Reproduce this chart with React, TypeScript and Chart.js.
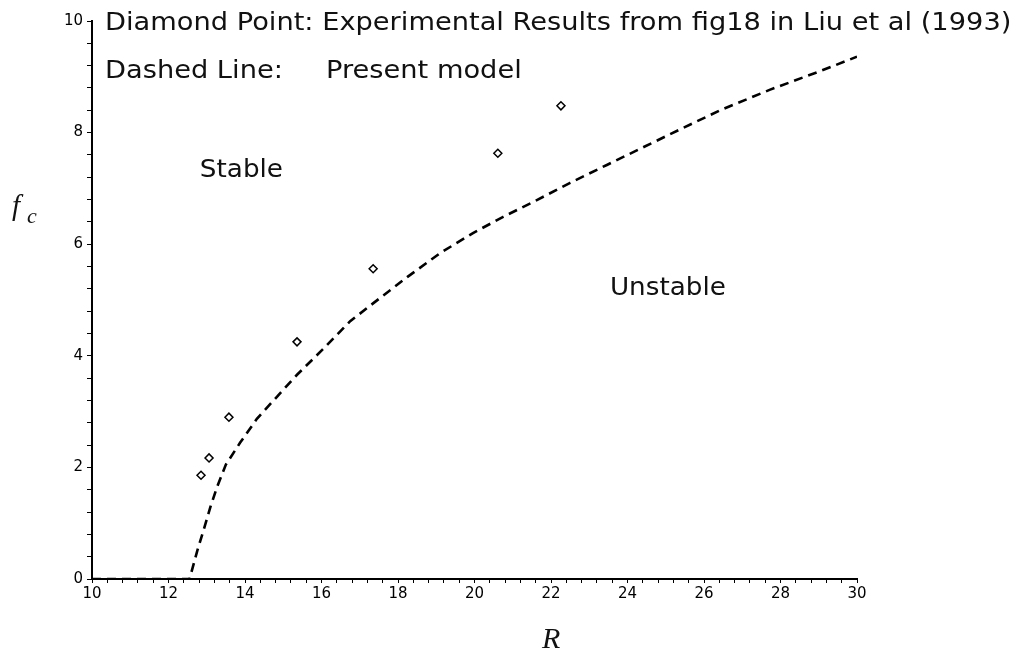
import React, { useEffect, useRef } from "react";
import { Chart, registerables } from "chart.js";

Chart.register(...registerables);

// Present model: critical f_c against R (dashed curve)
const modelR = [10, 12.55, 12.75, 12.95, 13.1, 13.27, 13.5, 13.87, 14.31, 14.84, 15.36, 16.04, 16.75, 17.5, 18.24, 19.1, 19.96, 20.75, 21.63, 22.5, 23.46, 24.3, 25.11, 26.42, 27.73, 29.03, 30];
const modelF = [0, 0, 0.5, 0.95, 1.3, 1.65, 2.05, 2.44, 2.87, 3.27, 3.66, 4.12, 4.62, 5.02, 5.41, 5.84, 6.2, 6.49, 6.79, 7.1, 7.42, 7.7, 7.97, 8.4, 8.77, 9.1, 9.36];

// Experimental points, fig18 of Liu et al (1993)
const expR = [12.85, 13.06, 13.58, 15.36, 17.35, 20.61, 22.26];
const expF = [1.86, 2.17, 2.9, 4.25, 5.56, 7.63, 8.48];

// Labelled ticks; the unlabelled minor ticks fall every 0.4 in between
const xTickLabels = [10, 12, 14, 16, 18, 20, 22, 24, 26, 28, 30];
const yTickLabels = [0, 2, 4, 6, 8, 10];

const legendLines = [
  "Diamond Point: Experimental Results from fig18 in Liu et al (1993)",
  "Dashed Line:",
  "Present model",
];
const regionLabels = ["Stable", "Unstable"];

const isLabelled = (list: number[], v: number) =>
  list.some((t) => Math.abs(t - v) < 1e-6);

// wide, Verdana-like lettering: DejaVu Sans stretched a little sideways
function wideText(ctx: CanvasRenderingContext2D, text: string, x: number, y: number, sx: number) {
  ctx.save();
  ctx.translate(x, y);
  ctx.scale(sx, 1);
  ctx.fillText(text, 0, 0);
  ctx.restore();
}

const textPlugin = {
  id: "plotText",
  afterDraw(chart: any) {
    const ctx = chart.ctx as CanvasRenderingContext2D;
    const xs = chart.scales.x;
    const ys = chart.scales.y;
    ctx.save();
    ctx.fillStyle = "#111";
    ctx.textAlign = "left";
    ctx.textBaseline = "alphabetic";
    ctx.font = '25px "DejaVu Sans"';
    wideText(ctx, legendLines[0], 105, 30, 1.09);
    wideText(ctx, legendLines[1], 105, 78, 1.09);
    wideText(ctx, legendLines[2], 326, 78, 1.09);

    wideText(ctx, regionLabels[0], xs.getPixelForValue(12.82), ys.getPixelForValue(7.2), 1.05);
    wideText(ctx, regionLabels[1], xs.getPixelForValue(23.54), ys.getPixelForValue(5.09), 1.05);

    // axis names in italic serif
    ctx.font = 'italic 29px "Liberation Serif"';
    ctx.fillText("f", 12, 215);
    ctx.font = 'italic 22px "Liberation Serif"';
    ctx.fillText("c", 27, 223);
    ctx.font = 'italic 30px "Liberation Serif"';
    ctx.fillText("R", 542, 648);
    ctx.restore();
  },
};

export default function App() {
  const canvasRef = useRef<HTMLCanvasElement>(null);

  useEffect(() => {
    const canvas = canvasRef.current;
    if (!canvas) return;
    const tickFont = { family: "DejaVu Sans", size: 15 };
    const chart = new Chart(canvas, {
      type: "scatter",
      data: {
        datasets: [
          {
            label: "Present model",
            data: modelR.map((r, i) => ({ x: r, y: modelF[i] })),
            showLine: true,
            borderColor: "#000",
            borderWidth: 2.6,
            borderDash: [9, 6],
            pointRadius: 0,
            tension: 0,
            fill: false,
          },
          {
            label: "Liu et al (1993)",
            data: expR.map((r, i) => ({ x: r, y: expF[i] })),
            showLine: false,
            pointStyle: "rectRot",
            pointRadius: 4,
            borderColor: "#000",
            backgroundColor: "#fff",
            borderWidth: 1.5,
          },
        ],
      },
      options: {
        responsive: false,
        animation: false,
        events: [],
        layout: { padding: { left: 0, top: 21, right: 168, bottom: 37 } },
        plugins: {
          legend: { display: false },
          tooltip: { enabled: false },
          title: { display: false },
        },
        scales: {
          x: {
            type: "linear",
            position: "bottom",
            min: 10,
            max: 30,
            afterFit: (s: any) => {
              s.height = 40;
            },
            border: { display: true, color: "#000", width: 2 },
            grid: {
              drawOnChartArea: false,
              drawTicks: true,
              tickLength: 4,
              color: "#000",
              lineWidth: 1,
            },
            ticks: {
              count: 51,
              autoSkip: false,
              maxRotation: 0,
              padding: 2,
              color: "#000",
              font: tickFont,
              callback: (v: any) => (isLabelled(xTickLabels, Number(v)) ? String(Math.round(Number(v))) : ""),
            },
          },
          y: {
            type: "linear",
            min: 0,
            max: 10,
            afterFit: (s: any) => {
              s.width = 92;
            },
            border: { display: true, color: "#000", width: 2 },
            grid: {
              drawOnChartArea: false,
              drawTicks: true,
              tickLength: 5,
              color: "#000",
              lineWidth: 1,
            },
            ticks: {
              count: 26,
              autoSkip: false,
              padding: 4,
              color: "#000",
              font: tickFont,
              callback: (v: any) => (isLabelled(yTickLabels, Number(v)) ? String(Math.round(Number(v))) : ""),
            },
          },
        },
      },
      plugins: [textPlugin],
    });
    return () => chart.destroy();
  }, []);

  return (
    <div style={{ position: "absolute", left: 0, top: 0, width: 1025, height: 656, background: "#fff" }}>
      <canvas ref={canvasRef} width={1025} height={656} style={{ display: "block" }} />
    </div>
  );
}
